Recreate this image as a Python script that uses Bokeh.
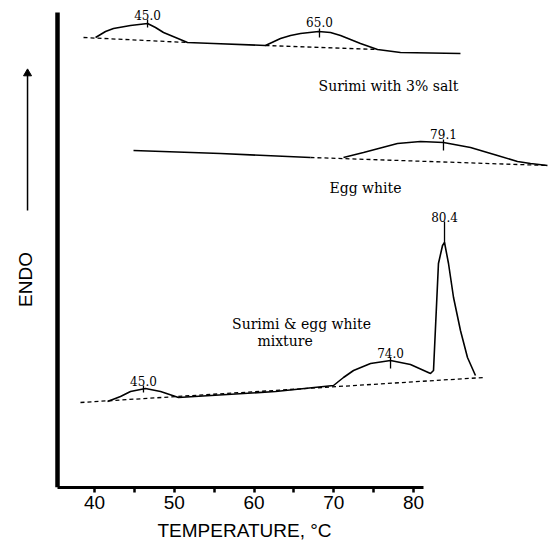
import math
from bokeh.plotting import figure
from bokeh.models import Range1d, FixedTicker, Title
from bokeh.core.properties import value
from bokeh.embed import file_html
from bokeh.resources import INLINE

# ---- data (temperature in axis units, signal in arbitrary stacked units) ----
surimi_T = [40.13, 41.38, 42.38, 44.51, 46.65, 47.65, 48.65, 50.16, 51.66, 54.92,
            61.44, 63.32, 64.58, 65.83, 68.09, 69.59, 70.85, 72.10, 73.35, 75.49,
            78.37, 85.89]
surimi_y = [450, 456, 459, 462, 464, 460, 455, 450, 445, 444,
            442, 449, 452, 454, 456, 455, 452, 448, 444, 438,
            435, 434]

egg_T = [44.89, 55.80, 67.08, math.nan, 71.22, 73.73, 77.99, 80.88, 83.76, 87.15,
         90.53, 93.04, 94.67, 96.80]
egg_y = [337, 334, 330, math.nan, 330, 335, 344, 346, 345, 340,
         332, 326, 324, 322]

mix_T = [41.63, 43.26, 44.51, 46.39, 48.28, 50.53, 62.70, 69.97, 71.22, 72.48,
         74.61, 77.12, 79.62, 82.13, 82.51, 83.13, 83.64, 83.89, 84.39, 85.02,
         85.89, 86.77, 87.77]
mix_y = [86, 91, 96, 99, 96, 90, 96, 102, 110, 117,
         124, 127, 123, 114, 117, 224, 242, 245, 224, 190,
         157, 130, 112]

# dashed baselines
base_T0 = [38.62, 61.44, 67.08, 38.24]
base_y0 = [450, 442, 330, 85]
base_T1 = [51.66, 75.49, 96.80, 88.78]
base_y1 = [445, 438, 322, 110]

# peak markers and labels
peak_labels = ["45.0", "65.0", "79.1", "45.0", "74.0", "80.4"]
peak_T = [46.65, 68.21, 83.76, 46.14, 77.12, 83.89]
peak_tick_y0 = [460, 450, 337, 95, 119, 244]
peak_tick_y1 = [468, 459, 348, 102, 130, 266]
peak_label_y = [473, 466, 354, 107, 135, 271]

# sample names
names = ["Surimi with 3% salt", "Egg white", "Surimi & egg white", "mixture"]
name_T = [76.86, 73.98, 65.96, 63.89]
name_y = [402, 300, 164, 147]

x_ticks = [40, 50, 60, 70, 80]
x_minor = [45, 55, 65, 75]
x_label = "TEMPERATURE, \u00b0C"

# ENDO annotation (left of the signal axis)
endo_T, endo_y = 31.35, 208
arrow_T, arrow_y0, arrow_y1 = 31.60, 277, 414

X_START, X_END = 28.21, 97.18
AXIS_X = 35.36

# ---- figure ----
p = figure(width=550, height=546, output_backend="svg", toolbar_location=None,
           x_range=Range1d(X_START, X_END), y_range=Range1d(0, 487),
           min_border_left=0, min_border_right=0, min_border_top=0,
           min_border_bottom=59)
p.outline_line_color = None
p.xgrid.visible = False
p.ygrid.visible = False
p.background_fill_color = "white"
p.border_fill_color = "white"

# x axis
xa = p.xaxis[0]
xa.ticker = FixedTicker(ticks=x_ticks, minor_ticks=x_minor)
xa.bounds = (AXIS_X, 81.25)
xa.axis_line_width = 3
xa.axis_line_color = "black"
xa.major_tick_line_width = 2.5
xa.minor_tick_line_width = 2.5
xa.major_tick_in = 0
xa.major_tick_out = 5
xa.minor_tick_in = 0
xa.minor_tick_out = 5
xa.major_label_text_font = "Liberation Sans"
xa.major_label_text_font_size = "19px"
xa.major_label_text_color = "black"
xa.major_label_standoff = 3

# x-axis caption, centred under the drawn part of the axis
p.add_layout(Title(text=x_label, align="left", offset=157, standoff=12,
                   text_font="Liberation Sans", text_font_size="19px",
                   text_font_style="normal", text_color="black"), "below")

# y axis: plain thick line drawn at the start of the temperature axis
ya = p.yaxis[0]
ya.fixed_location = AXIS_X
ya.ticker = FixedTicker(ticks=[], minor_ticks=[])
ya.bounds = (0, 475)
ya.axis_line_width = 4.5
ya.axis_line_color = "black"
ya.major_tick_out = 0
ya.major_tick_in = 0
ya.minor_tick_out = 0
ya.minor_tick_in = 0
ya.major_label_text_font_size = "0px"
ya.major_label_standoff = 0

# curves
p.line(surimi_T, surimi_y, line_color="black", line_width=1.6)
p.line(egg_T, egg_y, line_color="black", line_width=1.6)
p.line(mix_T, mix_y, line_color="black", line_width=1.6)

# baselines
p.segment(x0=base_T0, y0=base_y0, x1=base_T1, y1=base_y1,
          line_color="black", line_width=1.3, line_dash="4 3")

# peak ticks and labels
p.segment(x0=peak_T, y0=peak_tick_y0, x1=peak_T, y1=peak_tick_y1,
          line_color="black", line_width=1.3)
p.text(x=peak_T, y=peak_label_y, text=peak_labels, text_align="center",
       text_baseline="middle", text_font=value("DejaVu Serif"),
       text_font_size="12px", text_color="black")

# sample names
p.text(x=name_T, y=name_y, text=names, text_align="center",
       text_baseline="middle", text_font=value("DejaVu Serif"),
       text_font_size="14px", text_color="black")

# ENDO label with upward arrow
p.text(x=[endo_T], y=[endo_y], text=["ENDO"], angle=math.pi / 2,
       text_align="center", text_baseline="middle",
       text_font=value("Liberation Sans"), text_font_size="19px",
       text_color="black")
p.segment(x0=[arrow_T], y0=[arrow_y0], x1=[arrow_T], y1=[arrow_y1],
          line_color="black", line_width=1.5)
p.scatter(x=[arrow_T], y=[arrow_y1], marker="triangle", size=8,
          fill_color="black", line_color="black")

open("out.html", "w").write(file_html(p, INLINE))
